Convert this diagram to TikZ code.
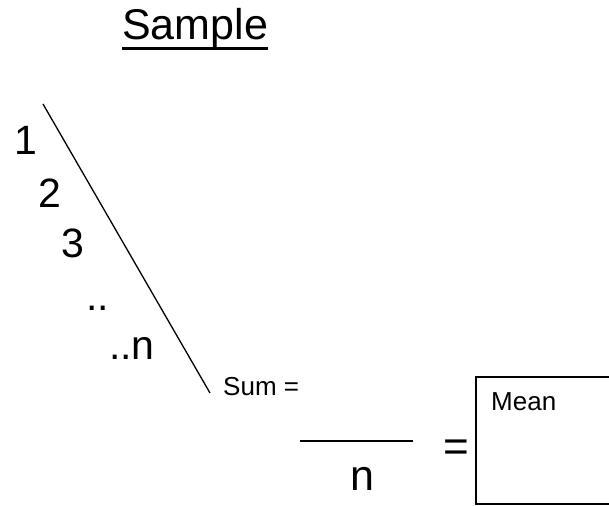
\documentclass[tikz,border=0pt]{standalone}
\usepackage{fontspec}
\setmainfont{Liberation Sans}
\begin{document}
\begin{tikzpicture}[x=1pt,y=-1pt,
  big/.style={inner sep=0pt,anchor=base west,font=\fontsize{41}{41}\selectfont},
  small/.style={inner sep=0pt,anchor=base west,font=\fontsize{26}{26}\selectfont},
  thin/.style={line width=1.3pt}]
\useasboundingbox (0,0) rectangle (609,505);
\clip (0,0) rectangle (609,505);
% title
\node[big,font=\fontsize{43}{43}\selectfont] (title) at (122,40) {Sample};
\draw[line width=2.5pt] ([yshift=-8.5pt]title.base west) -- ([yshift=-8.5pt]title.base east);
% items
\node[big] (i1) at (14,154) {1};
\node[big] (i2) at (38,207) {2};
\node[big] (i3) at (61,257) {3};
\node[big] (i4) at (86,310) {..};
\node[big] (i5) at (109,359) {..n};
% diagonal
\coordinate (d1) at (43,104);
\coordinate (d2) at (210,393);
\draw[thin] (d1) -- (d2);
% sum
\node[small] (sum) at (223,395) {Sum =};
\coordinate (f1) at (300,441);
\coordinate (f2) at (413,441);
\draw[thin] (f1) -- (f2);
\node[big,font=\fontsize{43}{43}\selectfont] (n) at (350,490) {n};
\node[big,font=\fontsize{44}{44}\selectfont] (eq) at (443,461) {=};
% mean box
\coordinate (b1) at (476,377);
\coordinate (b2) at (620,504);
\draw[line width=1.6pt] (b1) rectangle (b2);
\node[small] (mean) at (491,410) {Mean};
\end{tikzpicture}
\end{document}
